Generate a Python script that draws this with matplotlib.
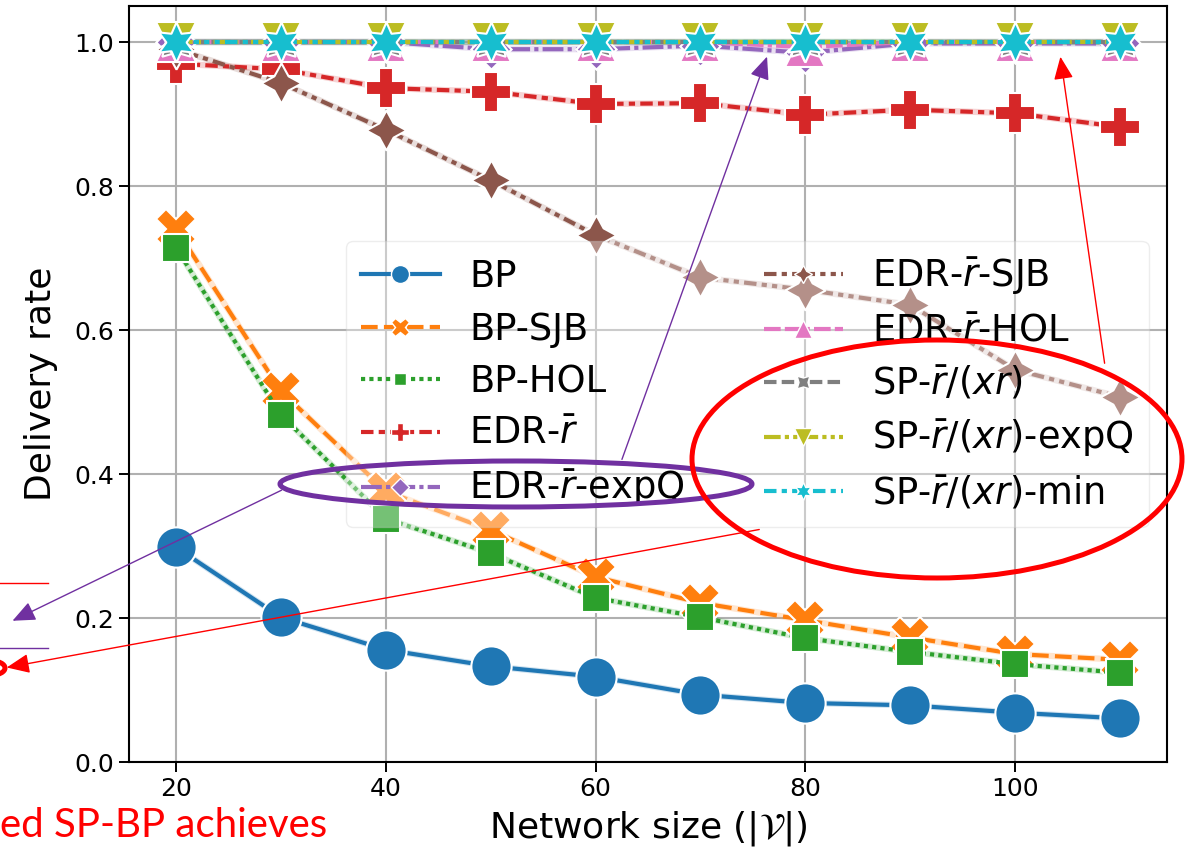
import matplotlib
matplotlib.use("Agg")
import matplotlib.pyplot as plt
from matplotlib.lines import Line2D
from matplotlib.patches import Ellipse, FancyArrowPatch

# ---------------- data ----------------
network_size = [20, 30, 40, 50, 60, 70, 80, 90, 100, 110]

series_names = [
    "BP", "BP-SJB", "BP-HOL", r"EDR-$\bar{r}$", r"EDR-$\bar{r}$-expQ",
    r"EDR-$\bar{r}$-SJB", r"EDR-$\bar{r}$-HOL", r"SP-$\bar{r}/(xr)$",
    r"SP-$\bar{r}/(xr)$-expQ", r"SP-$\bar{r}/(xr)$-min",
]

bp = [0.298, 0.201, 0.156, 0.133, 0.1185, 0.0935, 0.082, 0.0787, 0.0685, 0.0606]
bp_sjb = [0.740, 0.515, 0.376, 0.322, 0.257, 0.221, 0.197, 0.173, 0.150, 0.142]
bp_hol = [0.714, 0.482, 0.338, 0.290, 0.228, 0.201, 0.172, 0.153, 0.136, 0.124]
edr = [0.970, 0.962, 0.936, 0.931, 0.914, 0.915, 0.899, 0.906, 0.901, 0.882]
edr_expq = [1.0, 1.0, 1.0, 0.990, 0.990, 0.995, 0.985, 0.998, 0.998, 0.998]
edr_sjb = [0.990, 0.943, 0.878, 0.808, 0.732, 0.673, 0.656, 0.635, 0.545, 0.507]
edr_hol = [1.0, 1.0, 1.0, 1.0, 1.0, 1.0, 0.993, 1.0, 1.0, 1.0]
sp = [1.0] * 10
sp_expq = [1.0] * 10
sp_min = [1.0] * 10

all_series = [bp, bp_sjb, bp_hol, edr, edr_expq, edr_sjb, edr_hol, sp, sp_expq, sp_min]

# ---------------- styles ----------------
colors = plt.get_cmap("tab10").colors
markers = ["o", "X", (4, 0, 45), "P", (4, 0, 0), (4, 1, 0), "^", (4, 1, 45), "v", (6, 1, 0)]
dashes = [
    None, (4, 1.5), (1, 1), (3, 1.25, 1.5, 1.25), (5, 1, 1, 1),
    (3, 1.25, 1.25, 1.25, 1.25, 1.25), (4, 1, 4, 1, 1, 1),
    (3, 1.25, 3, 1.25, 1.25, 1.25), (4, 1, 1, 1, 1, 1),
    (3, 1.25, 1.25, 1.25, 1.25, 1.25, 1.25, 1.25),
]

W, H = 1190, 852
fig = plt.figure(figsize=(W / 100, H / 100), dpi=100)
ax = fig.add_axes([129 / W, (H - 762) / H, (1167 - 129) / W, (762 - 6) / H])

LW = 3.0
MS = 29
for i, ys in enumerate(all_series):
    c = colors[i]
    # faint band under line
    ax.plot(network_size, ys, color=c, lw=4.5, alpha=0.2, solid_capstyle="butt", zorder=2 + i * 0.01)
    kw = dict(color=c, lw=LW, marker=markers[i], ms=MS, mec="white", mew=1.5, zorder=2.5 + i * 0.01)
    if dashes[i] is None:
        ax.plot(network_size, ys, ls="-", **kw)
    else:
        ax.plot(network_size, ys, dashes=dashes[i], **kw)

ax.set_xlim(15.5, 114.5)
ax.set_ylim(0, 1.05)
ax.set_xticks([20, 40, 60, 80, 100])
ax.set_yticks([0.0, 0.2, 0.4, 0.6, 0.8, 1.0])
ax.set_yticklabels(["0.0", "0.2", "0.4", "0.6", "0.8", "1.0"])
ax.tick_params(labelsize=18, width=1.4, length=7)
ax.grid(True, color="#b0b0b0", lw=1.5)
ax.set_axisbelow(True)
for s in ax.spines.values():
    s.set_linewidth(1.5)
ax.set_xlabel(r"Network size ($|\mathcal{V}|$)", fontsize=26, labelpad=6)
ax.set_ylabel("Delivery rate", fontsize=26, labelpad=12)

handles = []
for i in range(len(all_series)):
    kw = dict(color=colors[i], lw=LW, marker=markers[i], ms=13, mec="white", mew=1.0)
    if dashes[i] is None:
        h = Line2D([], [], ls="-", **kw)
    else:
        h = Line2D([], [], dashes=dashes[i], **kw)
    handles.append(h)
leg = ax.legend(handles, series_names, loc="center right", ncol=2, fontsize=26.5,
                handlelength=2.15, handletextpad=0.8, columnspacing=2.15,
                labelspacing=0.42, framealpha=0.35)
leg.set_zorder(5)

# ---------------- annotations (figure pixel coords) ----------------
def fx(x):
    return x / W

def fy(y):
    return 1 - y / H

purple = "#7030a0"
fig.add_artist(Ellipse((fx(516), fy(484)), 472 / W, 46 / H, fill=False, ec=purple, lw=3.6,
                       transform=fig.transFigure, zorder=10))
fig.add_artist(Ellipse((fx(937), fy(459)), 490 / W, 238 / H, fill=False, ec="red", lw=3.6,
                       transform=fig.transFigure, zorder=10))
fig.add_artist(Ellipse((fx(-8), fy(668)), 26 / W, 14 / H, fill=False, ec="red", lw=3.6,
                       transform=fig.transFigure, zorder=10))

def arrow(p0, p1, col):
    fig.add_artist(FancyArrowPatch((fx(p0[0]), fy(p0[1])), (fx(p1[0]), fy(p1[1])),
                                   transform=fig.transFigure, arrowstyle="-|>,head_length=14,head_width=6",
                                   mutation_scale=1, color=col, lw=1.0, zorder=11))

arrow((621, 462), (768, 54), purple)
arrow((284, 489), (10, 622), purple)
arrow((1105, 366), (1060, 54), "red")
arrow((762, 529), (4, 668), "red")

fig.add_artist(Line2D([0, fx(48)], [fy(583), fy(583)], color="red", lw=1.0, transform=fig.transFigure))
fig.add_artist(Line2D([0, fx(48)], [fy(648), fy(648)], color=purple, lw=1.0, transform=fig.transFigure))

fig.text(0, fy(837), "ed SP-BP achieves", color="red", fontsize=29, family="Lato",
         ha="left", va="baseline")

fig.savefig("out.png", dpi=100)
